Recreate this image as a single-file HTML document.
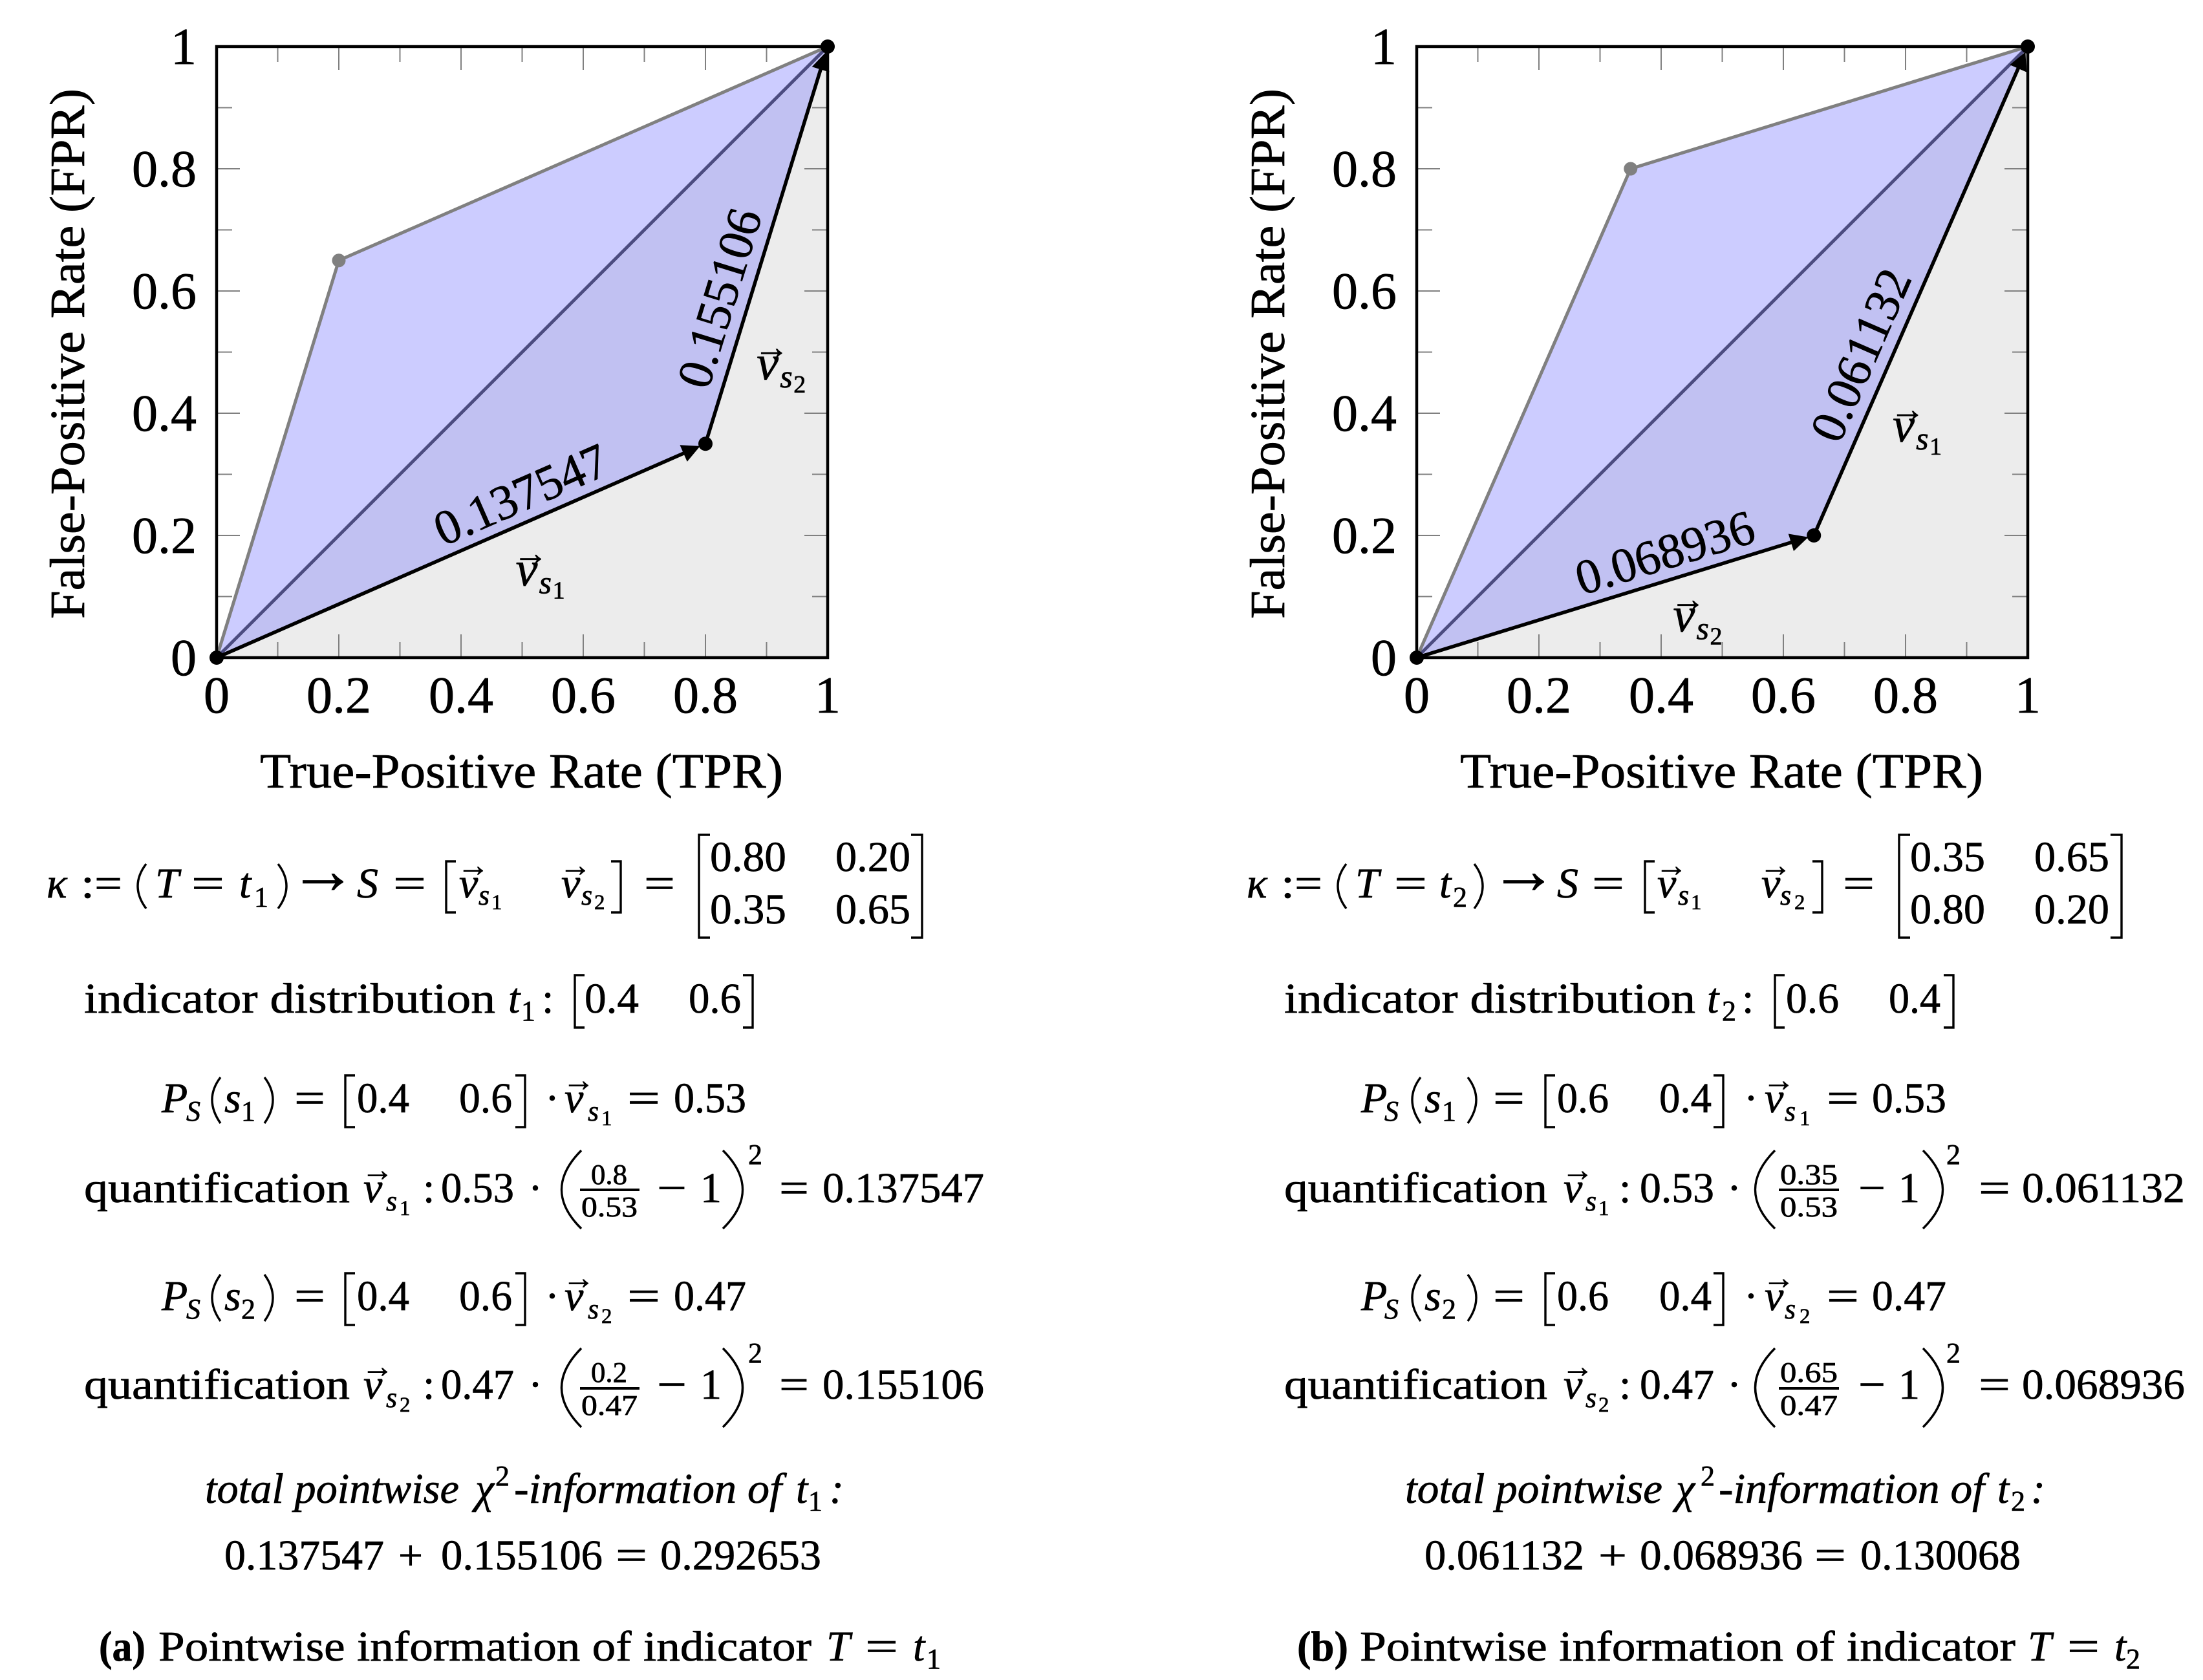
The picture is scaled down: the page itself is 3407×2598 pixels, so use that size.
<!DOCTYPE html>
<html lang="en">
<head>
<meta charset="utf-8">
<title>Pointwise information of indicators</title>
<style>
html,body{margin:0;padding:0;background:#fff;}
svg{display:block;}
text{font-family:"Liberation Serif","DejaVu Serif",serif;fill:#000;stroke:#000;stroke-width:.7px;}
.m{font-size:66px;}
.i{font-size:66px;font-style:italic;}
.s{font-size:44px;}
.si{font-size:44px;font-style:italic;}
.ss{font-size:33px;}
.f{font-size:44px;}
.a{font-size:50px;transform:translate(-5px,2px);transform-box:fill-box;}
.arr{font-size:105px;}
.b{font-size:66px;font-weight:bold;}
.tick{font-size:80px;}
.title{font-size:76px;}
.d{fill:none;stroke:#000;stroke-width:3.4;}
</style>
</head>
<body>
<svg id="figure" xmlns="http://www.w3.org/2000/svg" width="3407" height="2598" viewBox="0 0 3407 2598">
<rect width="3407" height="2598" fill="#fff"/>
<g id="plot-a"></g>
<g id="plot-b"></g>

<text class="title" x="402" y="1218" textLength="809" lengthAdjust="spacingAndGlyphs">True-Positive Rate (TPR)</text>
<text class="title" transform="translate(130,957) rotate(-90)" textLength="820" lengthAdjust="spacingAndGlyphs">False-Positive Rate (FPR)</text>
<text class="title" x="2258" y="1218" textLength="809" lengthAdjust="spacingAndGlyphs">True-Positive Rate (TPR)</text>
<text class="title" transform="translate(1986,957) rotate(-90)" textLength="820" lengthAdjust="spacingAndGlyphs">False-Positive Rate (FPR)</text>

<!-- PANEL A FORMULAS -->
<g>
<text class="i" x="72" y="1388">κ</text>
<text class="m" x="125" y="1388" textLength="64" lengthAdjust="spacingAndGlyphs">:=</text>
<path class="d" d="M226,1336Q200,1370 226,1405"/>
<text class="i" x="240" y="1388">T</text>
<text class="m" x="296" y="1388" textLength="51" lengthAdjust="spacingAndGlyphs">=</text>
<text class="i" x="370" y="1388">t</text>
<text class="s" x="393" y="1402">1</text>
<path class="d" d="M430,1336Q456,1370 430,1405"/>
<text class="arr" x="447" y="1381">→</text>
<text class="i" x="552" y="1388">S</text>
<text class="m" x="608" y="1388" textLength="51" lengthAdjust="spacingAndGlyphs">=</text>
<path class="d" d="M705,1332H690V1411H705"/>
<text class="i" x="710" y="1388">v</text><text class="a" x="712" y="1353">→</text>
<text class="si" x="740" y="1399">s</text><text class="ss" x="760" y="1406">1</text>
<text class="i" x="868" y="1388">v</text><text class="a" x="870" y="1353">→</text>
<text class="si" x="899" y="1399">s</text><text class="ss" x="919" y="1406">2</text>
<path class="d" d="M945,1332H960V1411H945"/>
<text class="m" x="996" y="1388" textLength="48" lengthAdjust="spacingAndGlyphs">=</text>
<path class="d" d="M1098,1291H1081V1450H1098"/>
<text class="m" x="1098" y="1347" textLength="118" lengthAdjust="spacingAndGlyphs">0.80</text>
<text class="m" x="1292" y="1347" textLength="116" lengthAdjust="spacingAndGlyphs">0.20</text>
<text class="m" x="1098" y="1428" textLength="118" lengthAdjust="spacingAndGlyphs">0.35</text>
<text class="m" x="1292" y="1428" textLength="116" lengthAdjust="spacingAndGlyphs">0.65</text>
<path class="d" d="M1409,1291H1426V1450H1409"/>
</g>
<g>
<text class="m" x="130" y="1566" textLength="636" lengthAdjust="spacingAndGlyphs">indicator distribution</text>
<text class="i" x="786" y="1566">t</text><text class="s" x="806" y="1578">1</text><text class="m" x="838" y="1566">:</text>
<path class="d" d="M904,1508H889V1589H904"/>
<text class="m" x="904" y="1566" textLength="84" lengthAdjust="spacingAndGlyphs">0.4</text>
<text class="m" x="1065" y="1566" textLength="81" lengthAdjust="spacingAndGlyphs">0.6</text>
<path class="d" d="M1149,1508H1164V1589H1149"/>
</g>
<g>
<text class="i" x="250" y="1720">P</text><text class="si" x="288" y="1733">S</text>
<path class="d" d="M341,1666Q315,1700 341,1737"/>
<text class="i" x="347" y="1720">s</text><text class="s" x="373" y="1733">1</text>
<path class="d" d="M409,1666Q435,1700 409,1737"/>
<text class="m" x="455" y="1720" textLength="48" lengthAdjust="spacingAndGlyphs">=</text>
<path class="d" d="M549,1663H534V1743H549"/>
<text class="m" x="552" y="1720" textLength="81" lengthAdjust="spacingAndGlyphs">0.4</text>
<text class="m" x="710" y="1720" textLength="82" lengthAdjust="spacingAndGlyphs">0.6</text>
<path class="d" d="M797,1663H812V1743H797"/>
<text class="m" x="843" y="1720">·</text>
<text class="i" x="873" y="1720">v</text><text class="a" x="875" y="1685">→</text>
<text class="si" x="909" y="1733">s</text><text class="ss" x="930" y="1740">1</text>
<text class="m" x="970" y="1720" textLength="51" lengthAdjust="spacingAndGlyphs">=</text>
<text class="m" x="1042" y="1720" textLength="112" lengthAdjust="spacingAndGlyphs">0.53</text>
</g>
<g>
<text class="m" x="130" y="1859" textLength="411" lengthAdjust="spacingAndGlyphs">quantification</text>
<text class="i" x="562" y="1859">v</text><text class="a" x="564" y="1824">→</text>
<text class="si" x="597" y="1872">s</text><text class="ss" x="618" y="1879">1</text><text class="m" x="654" y="1859">:</text>
<text class="m" x="682" y="1859" textLength="113" lengthAdjust="spacingAndGlyphs">0.53</text>
<text class="m" x="817" y="1859">·</text>
<path class="d" d="M899,1779Q838,1840 899,1900"/>
<text class="f" x="914" y="1831" textLength="56" lengthAdjust="spacingAndGlyphs">0.8</text>
<rect x="897" y="1838" width="92" height="4"/>
<text class="f" x="899" y="1881" textLength="87" lengthAdjust="spacingAndGlyphs">0.53</text>
<text class="m" x="1016" y="1859" textLength="46" lengthAdjust="spacingAndGlyphs">−</text>
<text class="m" x="1083" y="1859">1</text>
<path class="d" d="M1118,1779Q1179,1840 1118,1900"/>
<text class="f" x="1157" y="1800">2</text>
<text class="m" x="1205" y="1859" textLength="46" lengthAdjust="spacingAndGlyphs">=</text>
<text class="m" x="1272" y="1859" textLength="250" lengthAdjust="spacingAndGlyphs">0.137547</text>
</g>
<g>
<text class="i" x="250" y="2026">P</text><text class="si" x="288" y="2039">S</text>
<path class="d" d="M341,1971Q315,2007 341,2043"/>
<text class="i" x="347" y="2026">s</text><text class="s" x="373" y="2039">2</text>
<path class="d" d="M409,1971Q435,2007 409,2043"/>
<text class="m" x="455" y="2026" textLength="48" lengthAdjust="spacingAndGlyphs">=</text>
<path class="d" d="M549,1969H534V2049H549"/>
<text class="m" x="552" y="2026" textLength="81" lengthAdjust="spacingAndGlyphs">0.4</text>
<text class="m" x="710" y="2026" textLength="82" lengthAdjust="spacingAndGlyphs">0.6</text>
<path class="d" d="M797,1969H812V2049H797"/>
<text class="m" x="843" y="2026">·</text>
<text class="i" x="873" y="2026">v</text><text class="a" x="875" y="1991">→</text>
<text class="si" x="909" y="2039">s</text><text class="ss" x="930" y="2046">2</text>
<text class="m" x="970" y="2026" textLength="51" lengthAdjust="spacingAndGlyphs">=</text>
<text class="m" x="1042" y="2026" textLength="112" lengthAdjust="spacingAndGlyphs">0.47</text>
</g>
<g>
<text class="m" x="130" y="2163" textLength="411" lengthAdjust="spacingAndGlyphs">quantification</text>
<text class="i" x="562" y="2163">v</text><text class="a" x="564" y="2128">→</text>
<text class="si" x="597" y="2176">s</text><text class="ss" x="618" y="2183">2</text><text class="m" x="654" y="2163">:</text>
<text class="m" x="682" y="2163" textLength="113" lengthAdjust="spacingAndGlyphs">0.47</text>
<text class="m" x="817" y="2163">·</text>
<path class="d" d="M899,2085Q838,2146 899,2207"/>
<text class="f" x="914" y="2137" textLength="56" lengthAdjust="spacingAndGlyphs">0.2</text>
<rect x="897" y="2145" width="92" height="4"/>
<text class="f" x="899" y="2188" textLength="87" lengthAdjust="spacingAndGlyphs">0.47</text>
<text class="m" x="1016" y="2163" textLength="46" lengthAdjust="spacingAndGlyphs">−</text>
<text class="m" x="1083" y="2163">1</text>
<path class="d" d="M1118,2085Q1179,2146 1118,2207"/>
<text class="f" x="1157" y="2107">2</text>
<text class="m" x="1205" y="2163" textLength="46" lengthAdjust="spacingAndGlyphs">=</text>
<text class="m" x="1272" y="2163" textLength="250" lengthAdjust="spacingAndGlyphs">0.155106</text>
</g>
<g>
<text class="i" x="317" y="2324" textLength="393" lengthAdjust="spacingAndGlyphs">total pointwise</text>
<text class="i" x="735" y="2324">χ</text><text class="f" x="766" y="2297">2</text>
<text class="i" x="795" y="2324" textLength="414" lengthAdjust="spacingAndGlyphs">-information of</text>
<text class="i" x="1231" y="2324">t</text><text class="s" x="1250" y="2336">1</text><text class="i" x="1283" y="2324">:</text>
<text class="m" x="347" y="2427" textLength="247" lengthAdjust="spacingAndGlyphs">0.137547</text>
<text class="m" x="616" y="2427" textLength="38" lengthAdjust="spacingAndGlyphs">+</text>
<text class="m" x="682" y="2427" textLength="250" lengthAdjust="spacingAndGlyphs">0.155106</text>
<text class="m" x="952" y="2427" textLength="49" lengthAdjust="spacingAndGlyphs">=</text>
<text class="m" x="1021" y="2427" textLength="249" lengthAdjust="spacingAndGlyphs">0.292653</text>
</g>
<g>
<text class="b" x="153" y="2568" textLength="72" lengthAdjust="spacingAndGlyphs">(a)</text>
<text class="m" x="245" y="2568" textLength="1010" lengthAdjust="spacingAndGlyphs">Pointwise information of indicator</text>
<text class="i" x="1278" y="2568">T</text>
<text class="m" x="1338" y="2568" textLength="51" lengthAdjust="spacingAndGlyphs">=</text>
<text class="i" x="1412" y="2568">t</text><text class="s" x="1433" y="2580">1</text>
</g>

<!-- PANEL B FORMULAS -->
<g>
<text class="i" x="1928" y="1388">κ</text>
<text class="m" x="1981" y="1388" textLength="64" lengthAdjust="spacingAndGlyphs">:=</text>
<path class="d" d="M2082,1336Q2056,1370 2082,1405"/>
<text class="i" x="2096" y="1388">T</text>
<text class="m" x="2156" y="1388" textLength="51" lengthAdjust="spacingAndGlyphs">=</text>
<text class="i" x="2226" y="1388">t</text>
<text class="s" x="2247" y="1402">2</text>
<path class="d" d="M2280,1336Q2306,1370 2280,1405"/>
<text class="arr" x="2304" y="1381">→</text>
<text class="i" x="2408" y="1388">S</text>
<text class="m" x="2462" y="1388" textLength="50" lengthAdjust="spacingAndGlyphs">=</text>
<path class="d" d="M2559,1332H2544V1411H2559"/>
<text class="i" x="2563" y="1388">v</text><text class="a" x="2565" y="1353">→</text>
<text class="si" x="2595" y="1399">s</text><text class="ss" x="2615" y="1406">1</text>
<text class="i" x="2724" y="1388">v</text><text class="a" x="2726" y="1353">→</text>
<text class="si" x="2753" y="1399">s</text><text class="ss" x="2775" y="1406">2</text>
<path class="d" d="M2803,1332H2818V1411H2803"/>
<text class="m" x="2850" y="1388" textLength="49" lengthAdjust="spacingAndGlyphs">=</text>
<path class="d" d="M2954,1291H2937V1450H2954"/>
<text class="m" x="2954" y="1347" textLength="116" lengthAdjust="spacingAndGlyphs">0.35</text>
<text class="m" x="3146" y="1347" textLength="116" lengthAdjust="spacingAndGlyphs">0.65</text>
<text class="m" x="2954" y="1428" textLength="116" lengthAdjust="spacingAndGlyphs">0.80</text>
<text class="m" x="3146" y="1428" textLength="116" lengthAdjust="spacingAndGlyphs">0.20</text>
<path class="d" d="M3264,1291H3281V1450H3264"/>
</g>
<g>
<text class="m" x="1986" y="1566" textLength="636" lengthAdjust="spacingAndGlyphs">indicator distribution</text>
<text class="i" x="2640" y="1566">t</text><text class="s" x="2663" y="1578">2</text><text class="m" x="2694" y="1566">:</text>
<path class="d" d="M2760,1508H2745V1589H2760"/>
<text class="m" x="2762" y="1566" textLength="82" lengthAdjust="spacingAndGlyphs">0.6</text>
<text class="m" x="2921" y="1566" textLength="80" lengthAdjust="spacingAndGlyphs">0.4</text>
<path class="d" d="M3006,1508H3021V1589H3006"/>
</g>
<g>
<text class="i" x="2105" y="1720">P</text><text class="si" x="2141" y="1733">S</text>
<path class="d" d="M2197,1666Q2171,1700 2197,1737"/>
<text class="i" x="2203" y="1720">s</text><text class="s" x="2230" y="1733">1</text>
<path class="d" d="M2270,1666Q2296,1700 2270,1737"/>
<text class="m" x="2309" y="1720" textLength="49" lengthAdjust="spacingAndGlyphs">=</text>
<path class="d" d="M2405,1663H2390V1743H2405"/>
<text class="m" x="2408" y="1720" textLength="80" lengthAdjust="spacingAndGlyphs">0.6</text>
<text class="m" x="2566" y="1720" textLength="81" lengthAdjust="spacingAndGlyphs">0.4</text>
<path class="d" d="M2650,1663H2665V1743H2650"/>
<text class="m" x="2697" y="1720">·</text>
<text class="i" x="2729" y="1720">v</text><text class="a" x="2731" y="1685">→</text>
<text class="si" x="2760" y="1733">s</text><text class="ss" x="2783" y="1740">1</text>
<text class="m" x="2825" y="1720" textLength="50" lengthAdjust="spacingAndGlyphs">=</text>
<text class="m" x="2895" y="1720" textLength="115" lengthAdjust="spacingAndGlyphs">0.53</text>
</g>
<g>
<text class="m" x="1986" y="1859" textLength="407" lengthAdjust="spacingAndGlyphs">quantification</text>
<text class="i" x="2418" y="1859">v</text><text class="a" x="2420" y="1824">→</text>
<text class="si" x="2452" y="1872">s</text><text class="ss" x="2472" y="1879">1</text><text class="m" x="2504" y="1859">:</text>
<text class="m" x="2536" y="1859" textLength="115" lengthAdjust="spacingAndGlyphs">0.53</text>
<text class="m" x="2671" y="1859">·</text>
<path class="d" d="M2745,1779Q2684,1840 2745,1900"/>
<text class="f" x="2753" y="1831" textLength="89" lengthAdjust="spacingAndGlyphs">0.35</text>
<rect x="2751" y="1838" width="93" height="4"/>
<text class="f" x="2753" y="1881" textLength="89" lengthAdjust="spacingAndGlyphs">0.53</text>
<text class="m" x="2874" y="1859" textLength="42" lengthAdjust="spacingAndGlyphs">−</text>
<text class="m" x="2936" y="1859">1</text>
<path class="d" d="M2974,1779Q3035,1840 2974,1900"/>
<text class="f" x="3010" y="1800">2</text>
<text class="m" x="3060" y="1859" textLength="49" lengthAdjust="spacingAndGlyphs">=</text>
<text class="m" x="3127" y="1859" textLength="252" lengthAdjust="spacingAndGlyphs">0.061132</text>
</g>
<g>
<text class="i" x="2105" y="2026">P</text><text class="si" x="2141" y="2039">S</text>
<path class="d" d="M2197,1971Q2171,2007 2197,2043"/>
<text class="i" x="2203" y="2026">s</text><text class="s" x="2230" y="2039">2</text>
<path class="d" d="M2270,1971Q2296,2007 2270,2043"/>
<text class="m" x="2309" y="2026" textLength="49" lengthAdjust="spacingAndGlyphs">=</text>
<path class="d" d="M2405,1969H2390V2049H2405"/>
<text class="m" x="2408" y="2026" textLength="80" lengthAdjust="spacingAndGlyphs">0.6</text>
<text class="m" x="2566" y="2026" textLength="81" lengthAdjust="spacingAndGlyphs">0.4</text>
<path class="d" d="M2650,1969H2665V2049H2650"/>
<text class="m" x="2697" y="2026">·</text>
<text class="i" x="2729" y="2026">v</text><text class="a" x="2731" y="1991">→</text>
<text class="si" x="2760" y="2039">s</text><text class="ss" x="2783" y="2046">2</text>
<text class="m" x="2825" y="2026" textLength="50" lengthAdjust="spacingAndGlyphs">=</text>
<text class="m" x="2895" y="2026" textLength="115" lengthAdjust="spacingAndGlyphs">0.47</text>
</g>
<g>
<text class="m" x="1986" y="2163" textLength="407" lengthAdjust="spacingAndGlyphs">quantification</text>
<text class="i" x="2418" y="2163">v</text><text class="a" x="2420" y="2128">→</text>
<text class="si" x="2452" y="2176">s</text><text class="ss" x="2472" y="2183">2</text><text class="m" x="2504" y="2163">:</text>
<text class="m" x="2536" y="2163" textLength="115" lengthAdjust="spacingAndGlyphs">0.47</text>
<text class="m" x="2671" y="2163">·</text>
<path class="d" d="M2745,2085Q2684,2146 2745,2207"/>
<text class="f" x="2753" y="2137" textLength="89" lengthAdjust="spacingAndGlyphs">0.65</text>
<rect x="2751" y="2145" width="93" height="4"/>
<text class="f" x="2753" y="2188" textLength="89" lengthAdjust="spacingAndGlyphs">0.47</text>
<text class="m" x="2874" y="2163" textLength="42" lengthAdjust="spacingAndGlyphs">−</text>
<text class="m" x="2936" y="2163">1</text>
<path class="d" d="M2974,2085Q3035,2146 2974,2207"/>
<text class="f" x="3010" y="2107">2</text>
<text class="m" x="3060" y="2163" textLength="49" lengthAdjust="spacingAndGlyphs">=</text>
<text class="m" x="3127" y="2163" textLength="252" lengthAdjust="spacingAndGlyphs">0.068936</text>
</g>
<g>
<text class="i" x="2173" y="2324" textLength="398" lengthAdjust="spacingAndGlyphs">total pointwise</text>
<text class="i" x="2592" y="2324">χ</text><text class="f" x="2630" y="2297">2</text>
<text class="i" x="2658" y="2324" textLength="411" lengthAdjust="spacingAndGlyphs">-information of</text>
<text class="i" x="3089" y="2324">t</text><text class="s" x="3110" y="2336">2</text><text class="i" x="3141" y="2324">:</text>
<text class="m" x="2203" y="2427" textLength="247" lengthAdjust="spacingAndGlyphs">0.061132</text>
<text class="m" x="2472" y="2427" textLength="44" lengthAdjust="spacingAndGlyphs">+</text>
<text class="m" x="2536" y="2427" textLength="252" lengthAdjust="spacingAndGlyphs">0.068936</text>
<text class="m" x="2806" y="2427" textLength="49" lengthAdjust="spacingAndGlyphs">=</text>
<text class="m" x="2877" y="2427" textLength="248" lengthAdjust="spacingAndGlyphs">0.130068</text>
</g>
<g>
<text class="b" x="2006" y="2568" textLength="79" lengthAdjust="spacingAndGlyphs">(b)</text>
<text class="m" x="2103" y="2568" textLength="1014" lengthAdjust="spacingAndGlyphs">Pointwise information of indicator</text>
<text class="i" x="3136" y="2568">T</text>
<text class="m" x="3197" y="2568" textLength="50" lengthAdjust="spacingAndGlyphs">=</text>
<text class="i" x="3270" y="2568">t</text><text class="s" x="3288" y="2580">2</text>
</g>
</svg>

<script>
const majorTicks = [0, 0.2, 0.4, 0.6, 0.8, 1];
const minorTicks = [0.1, 0.3, 0.5, 0.7, 0.9];
const tickLabels = ["0", "0.2", "0.4", "0.6", "0.8", "1"];

const panelAFirstVector = [0.8, 0.35];
const panelASecondVector = [0.2, 0.65];
const panelAEdgeValues = ["0.137547", "0.155106"];
const panelAVectorIndex = ["1", "2"];

const panelBFirstVector = [0.65, 0.2];
const panelBSecondVector = [0.35, 0.8];
const panelBEdgeValues = ["0.068936", "0.061132"];
const panelBVectorIndex = ["2", "1"];

const NS = 'http://www.w3.org/2000/svg';
function mk(parent, tag, attrs, content) {
  const el = document.createElementNS(NS, tag);
  for (const k in attrs) el.setAttribute(k, attrs[k]);
  if (content !== undefined) el.textContent = content;
  parent.appendChild(el);
  return el;
}

function drawPanel(root, left, first, second, edgeValues, vectorIndex, off1, off2) {
  const side = 945, top = 72, bottom = 1017;
  const xAxis = v => left + v * side;
  const yAxis = v => bottom - v * side;
  const pts = a => a.map(p => xAxis(p[0]) + ',' + yAxis(p[1])).join(' ');
  const origin = [0, 0], end = [1, 1];
  const lower = first, upper = second;

  const gray = mk(root, 'polygon', {points: pts([origin, lower, end, [1, 0]]), fill: '#ececec'});
  
  
  const blue = mk(root, 'polygon', {points: pts([origin, upper, end]), fill: '#ccccff'});
  
  
  const dark = mk(root, 'polygon', {points: pts([origin, lower, end]), fill: '#c1c1f2'});
  
  

  const tickLine = (x1, y1, x2, y2) => {
    const t = mk(root, 'line', {x1, y1, x2, y2, stroke: '#808080', 'stroke-width': 2});
    
    
  };
  const drawTicks = (vals, len) => vals.forEach(v => {
    tickLine(xAxis(v), bottom, xAxis(v), bottom - len);
    tickLine(xAxis(v), top, xAxis(v), top + len);
    tickLine(left, yAxis(v), left + len, yAxis(v));
    tickLine(left + side, yAxis(v), left + side - len, yAxis(v));
  });
  drawTicks(majorTicks, 36);
  drawTicks(minorTicks, 24);

  const diag = mk(root, 'line', {x1: xAxis(0), y1: yAxis(0), x2: xAxis(1), y2: yAxis(1), stroke: '#4c4c80', 'stroke-width': 5});
  
  

  const upperLine = mk(root, 'polyline', {points: pts([origin, upper, end]), fill: 'none', stroke: '#808080', 'stroke-width': 5});
  
  
  const upperDot = mk(root, 'circle', {cx: xAxis(upper[0]), cy: yAxis(upper[1]), r: 10.5, fill: '#808080'});
  
  

  const frame = mk(root, 'rect', {x: left, y: top, width: side, height: side, fill: 'none', stroke: '#000', 'stroke-width': 4.5});
  
  

  const segment = (a, b, valueText, f, gap, index, off, fv) => {
    const ax = xAxis(a[0]), ay = yAxis(a[1]), bx = xAxis(b[0]), by = yAxis(b[1]);
    const len = Math.hypot(bx - ax, by - ay), ux = (bx - ax) / len, uy = (by - ay) / len;
    const ln = mk(root, 'line', {x1: ax, y1: ay, x2: bx - ux * 20, y2: by - uy * 20, stroke: '#000', 'stroke-width': 5.5});
    
    
    const tx = bx - ux * 9, ty = by - uy * 9, cx = tx - ux * 28, cy = ty - uy * 28;
    const head = mk(root, 'polygon', {points: tx + ',' + ty + ' ' + (cx - uy * 14) + ',' + (cy + ux * 14) + ' ' + (cx + uy * 14) + ',' + (cy - ux * 14), fill: '#000'});
    
    
    const lx = ax + (bx - ax) * f + uy * gap, ly = ay + (by - ay) * f - ux * gap;
    const ang = Math.atan2(uy, ux) * 180 / Math.PI;
    const val = mk(root, 'text', {x: 0, y: 0, 'text-anchor': 'middle', 'font-size': 76, transform: 'translate(' + lx + ',' + ly + ') rotate(' + ang + ')'}, valueText);
    
    
    const vx = ax + (bx - ax) * fv + off[0], vy = ay + (by - ay) * fv + off[1];
    const g = mk(root, 'g', {});
    
    
    mk(g, 'text', {x: vx, y: vy, 'font-size': 76, 'font-style': 'italic'}, 'v');
    mk(g, 'text', {x: vx - 4, y: vy - 32, 'font-size': 54}, '→');
    mk(g, 'text', {x: vx + 36, y: vy + 12, 'font-size': 50, 'font-style': 'italic'}, 's');
    mk(g, 'text', {x: vx + 57, y: vy + 20, 'font-size': 38}, index);
  };
  segment(origin, lower, edgeValues[0], 0.645, 17, vectorIndex[0], off1, 0.6);
  segment(lower, end, edgeValues[1], 0.345, 20, vectorIndex[1], off2, 0.16);

  [origin, lower, end].forEach(p => {
    const dot = mk(root, 'circle', {cx: xAxis(p[0]), cy: yAxis(p[1]), r: 11, fill: '#000'});
    
    
  });

  majorTicks.forEach((v, i) => {
    const xl = mk(root, 'text', {x: xAxis(v), y: 1102, 'text-anchor': 'middle', class: 'tick'}, tickLabels[i]);
    
    
    const yl = mk(root, 'text', {x: left - 31, y: yAxis(v) + 27, 'text-anchor': 'end', class: 'tick'}, tickLabels[i]);
    
    
  });
}

drawPanel(document.getElementById('plot-a'), 335, panelAFirstVector, panelASecondVector, panelAEdgeValues, panelAVectorIndex, [9, 87], [49, -1]);
drawPanel(document.getElementById('plot-b'), 2191, panelBFirstVector, panelBSecondVector, panelBEdgeValues, panelBVectorIndex, [28, 73], [69, -24]);
</script>
</body>
</html>
